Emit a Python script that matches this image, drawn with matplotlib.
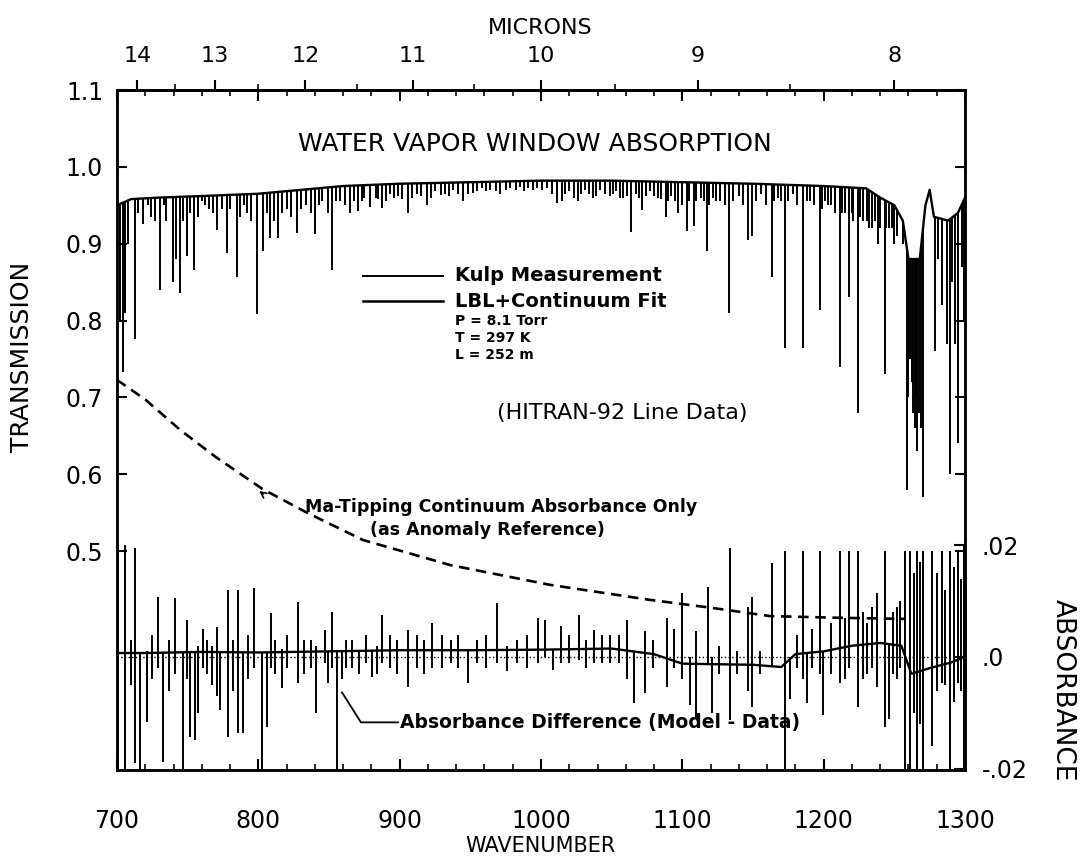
import numpy as np
import matplotlib
matplotlib.use('Agg')
import matplotlib.pyplot as plt

plt.rcParams['font.family'] = ['DejaVu Sans']

# transmission trace: upper envelope (wavenumber, transmission)
base_wn = [700, 710, 730, 760, 800, 830, 860, 900, 950, 1000, 1050, 1100, 1150,
           1200, 1230, 1240, 1250, 1256, 1260, 1268, 1272, 1275, 1278, 1288, 1295, 1300]
base_tr = [0.950, 0.958, 0.960, 0.962, 0.965, 0.970, 0.975, 0.978, 0.980, 0.982, 0.982,
           0.980, 0.978, 0.975, 0.972, 0.960, 0.950, 0.930, 0.880, 0.880, 0.950, 0.970,
           0.935, 0.930, 0.940, 0.960]

# absorption lines: centre and minimum transmission
line_wn = [702, 704.2, 705.7, 708, 712.7, 718.4, 722, 727, 730.4, 735, 739.6, 742, 744.6,
           749.5, 754.5, 760.1, 765, 770.8, 774, 777.8, 784.9, 790, 795, 799.1, 803.3,
           808.3, 813.9, 820, 827.4, 834, 840.1, 845, 849.3, 852.1, 857.8, 864.9, 870.5,
           875, 879, 883, 887.5, 893, 899, 905.9, 912, 919.3, 925, 932, 938, 944.8, 951.9,
           958, 964, 971, 978, 985, 991, 997.2, 1004, 1008, 1011.3, 1014.9, 1020, 1026.2,
           1031, 1036.8, 1042, 1048.8, 1053, 1058, 1063.7, 1067, 1071.5, 1077, 1082.8,
           1088.5, 1092, 1097, 1103.3, 1108.3, 1113, 1117.5, 1121.7, 1127, 1133, 1140,
           1146.5, 1149.3, 1156, 1163.5, 1168, 1172.7, 1178.3, 1185.4, 1190, 1197.4, 1201,
           1205.2, 1211.6, 1215, 1218, 1221, 1224.3, 1228, 1230.7, 1234, 1238.5, 1243.4,
           1246, 1248.4, 1252, 1256.2, 1259, 1260, 1261, 1262.5, 1263, 1264.6, 1265.5, 1266,
           1267.5, 1269, 1270.3, 1278.8, 1281, 1283.7, 1287.3, 1289.4, 1291, 1293, 1295.1,
           1297.9, 1299,
           # weaker lines that make the envelope ragged
           715, 724, 733, 747, 752, 757, 762, 768, 780, 787, 792, 806, 811, 817, 823, 830,
           837, 843, 855, 861, 868, 873, 885, 890, 896, 902, 909, 915, 922, 929, 935, 941,
           948, 955, 961, 968, 975, 982, 988, 994, 1001, 1017, 1023, 1028, 1034, 1039, 1045,
           1051, 1056, 1061, 1069, 1074, 1080, 1085, 1090, 1095, 1100, 1105, 1110, 1115,
           1119, 1124, 1130, 1136, 1143, 1152, 1159, 1165, 1170, 1175, 1181, 1188, 1193,
           1199, 1203, 1208, 1213, 1220, 1226, 1232, 1236, 1240, 1244, 1250]
line_tr = [0.80, 0.733, 0.81, 0.90, 0.776, 0.926, 0.95, 0.93, 0.84, 0.93, 0.85, 0.88, 0.836,
           0.884, 0.866, 0.955, 0.945, 0.918, 0.945, 0.888, 0.856, 0.95, 0.93, 0.808, 0.89,
           0.908, 0.908, 0.945, 0.914, 0.95, 0.912, 0.955, 0.94, 0.866, 0.955, 0.94, 0.943,
           0.96, 0.948, 0.96, 0.946, 0.965, 0.962, 0.94, 0.965, 0.95, 0.968, 0.965, 0.97,
           0.955, 0.966, 0.972, 0.97, 0.964, 0.972, 0.974, 0.972, 0.973, 0.972, 0.965, 0.953,
           0.955, 0.968, 0.955, 0.97, 0.96, 0.97, 0.962, 0.968, 0.96, 0.915, 0.965, 0.944,
           0.968, 0.96, 0.935, 0.962, 0.94, 0.917, 0.923, 0.96, 0.89, 0.96, 0.955, 0.81,
           0.962, 0.905, 0.91, 0.965, 0.856, 0.96, 0.764, 0.965, 0.764, 0.955, 0.814, 0.955,
           0.95, 0.74, 0.94, 0.83, 0.93, 0.68, 0.93, 0.93, 0.92, 0.90, 0.73, 0.92, 0.92, 0.91,
           0.90, 0.58, 0.70, 0.75, 0.72, 0.68, 0.66, 0.70, 0.63, 0.68, 0.66, 0.57, 0.76,
           0.88, 0.82, 0.77, 0.60, 0.85, 0.77, 0.64, 0.87, 0.80,
           0.94, 0.935, 0.95, 0.93, 0.94, 0.935, 0.95, 0.94, 0.945, 0.935, 0.94, 0.94, 0.93,
           0.94, 0.935, 0.945, 0.94, 0.95, 0.955, 0.95, 0.955, 0.955, 0.958, 0.955, 0.96,
           0.958, 0.96, 0.962, 0.96, 0.963, 0.962, 0.965, 0.965, 0.968, 0.968, 0.968, 0.97,
           0.97, 0.968, 0.97, 0.97, 0.965, 0.96, 0.965, 0.965, 0.962, 0.965, 0.965, 0.96,
           0.962, 0.96, 0.962, 0.962, 0.958, 0.955, 0.955, 0.95, 0.955, 0.955, 0.955, 0.95,
           0.955, 0.95, 0.955, 0.95, 0.955, 0.95, 0.955, 0.955, 0.955, 0.95, 0.955, 0.95,
           0.945, 0.95, 0.94, 0.94, 0.94, 0.935, 0.92, 0.93, 0.92, 0.92, 0.90]

# Ma-Tipping continuum absorbance (dashed)
cont_wn = [700, 720, 745, 770, 803, 835, 874, 936, 1006, 1077, 1120, 1162, 1210, 1258]
cont_ab = [0.0495, 0.0460, 0.0405, 0.0357, 0.0300, 0.0257, 0.0209, 0.0164, 0.0129,
           0.0102, 0.0088, 0.0073, 0.0070, 0.0068]

# absorbance difference (model - data): slow level plus spikes
diff_wn = [700, 720, 760, 800, 850, 900, 950, 1000, 1050, 1080, 1100, 1150, 1170, 1180,
           1200, 1220, 1240, 1255, 1262, 1275, 1290, 1300]
diff_ab = [0.0007, 0.0007, 0.0009, 0.0008, 0.0010, 0.0012, 0.0012, 0.0013, 0.0015, 0.0005,
           -0.0012, -0.0014, -0.0018, 0.0005, 0.0010, 0.0020, 0.0025, 0.0020, -0.0030,
           -0.0020, -0.0010, 0.0]
spike_wn = [700.5, 706, 710, 712.7, 716.3, 721.3, 725, 729, 732.6, 737, 741, 747, 749.5, 752,
            755, 757.3, 760.8, 764, 767, 770.8, 773, 778.5, 782, 785.6, 789, 793, 796.8,
            802.5, 806, 808.8, 812, 816.6, 820, 827.9, 832, 837, 841, 847.5, 849.3, 852.1,
            855.6, 859, 862, 866, 871, 876, 880.5, 884, 887.5, 893, 898, 905.9, 912, 917,
            923, 930, 936, 941, 948, 955, 961, 969, 976, 983, 990, 997.9, 1002.8, 1008.5,
            1014, 1020, 1027, 1032, 1037.5, 1043, 1049, 1055, 1060.5, 1066, 1073.5, 1079,
            1089, 1094, 1100, 1105.6, 1110, 1118, 1121, 1126, 1134, 1139, 1146.5, 1149.3,
            1155, 1163.5, 1172.7, 1176, 1181, 1185.4, 1188, 1192, 1197.4, 1199.5, 1205,
            1211.6, 1215, 1218, 1224.3, 1228, 1231, 1234, 1238, 1243.4, 1246, 1249, 1252,
            1254, 1257.6, 1261, 1264, 1266, 1268, 1270.3, 1277, 1280, 1283.7, 1286, 1289.4,
            1292, 1295, 1297, 1299.3]
spike_lo = [-0.02, -0.02, -0.005, -0.019, -0.02, -0.0116, -0.004, -0.002, -0.0188, -0.006,
            -0.003, -0.02, -0.004, -0.0143, -0.0148, -0.01, -0.002, -0.003, -0.005, -0.007,
            -0.0095, -0.0143, -0.006, -0.0136, -0.0136, -0.004, -0.002, -0.02, -0.0125,
            -0.002, -0.003, -0.0055, -0.002, -0.0047, -0.003, -0.002, -0.01, -0.001, -0.0047,
            -0.002, -0.02, -0.004, -0.002, -0.002, -0.003, -0.001, -0.0036, -0.003, -0.001,
            -0.002, -0.003, -0.0054, -0.002, -0.003, -0.002, -0.002, -0.001, -0.002, -0.0047,
            -0.001, -0.002, -0.001, -0.0025, -0.001, -0.002, -0.001, 0.0, -0.0023, -0.001,
            -0.001, -0.0005, -0.002, -0.001, -0.001, -0.001, -0.001, -0.004, -0.0082, -0.0064,
            -0.002, -0.0054, -0.002, -0.004, -0.0086, -0.011, -0.001, -0.01, -0.003, -0.0112,
            -0.003, -0.006, -0.009, -0.003, -0.001, -0.02, -0.0075, -0.002, -0.004, -0.0082,
            -0.002, -0.003, -0.0104, -0.003, -0.0046, -0.004, -0.002, -0.009, -0.004, -0.003,
            -0.002, -0.0054, -0.0125, -0.011, -0.003, -0.004, -0.002, -0.02, -0.02, -0.01,
            -0.02, -0.012, -0.02, -0.016, -0.006, -0.0046, -0.005, -0.02, -0.008, -0.0046,
            -0.006, -0.02]
spike_hi = [0.02, 0.02, 0.003, 0.0195, 0.0, 0.001, 0.004, 0.0107, 0.0, 0.003, 0.0105, 0.0,
            0.0066, 0.0, 0.0, 0.002, 0.005, 0.003, 0.002, 0.0054, 0.0, 0.012, 0.003, 0.012,
            0.0, 0.004, 0.0123, 0.0, 0.0, 0.0079, 0.003, 0.0015, 0.004, 0.0098, 0.003, 0.003,
            0.002, 0.0048, 0.001, 0.008, 0.0, 0.001, 0.003, 0.003, 0.0, 0.004, 0.001, 0.002,
            0.0075, 0.004, 0.003, 0.0048, 0.004, 0.003, 0.006, 0.004, 0.003, 0.004, 0.0,
            0.003, 0.004, 0.0096, 0.002, 0.003, 0.004, 0.007, 0.0066, 0.0, 0.0055, 0.004,
            0.0075, 0.003, 0.0048, 0.004, 0.004, 0.004, 0.0066, 0.0, 0.0046, 0.003, 0.007,
            0.005, 0.0114, 0.0, 0.0046, 0.0125, 0.0, 0.002, 0.0195, 0.001, 0.009, 0.0107,
            0.001, 0.0168, 0.019, 0.0, 0.004, 0.019, 0.0, 0.005, 0.019, 0.0, 0.006, 0.019,
            0.007, 0.019, 0.019, 0.008, 0.006, 0.009, 0.0114, 0.019, 0.0, 0.008, 0.009, 0.01,
            0.019, 0.019, 0.015, 0.019, 0.017, 0.019, 0.019, 0.015, 0.019, 0.012, 0.019,
            0.016, 0.019, 0.014, 0.02]

wn_major = [700, 800, 900, 1000, 1100, 1200, 1300]
tr_ticks = [0.5, 0.6, 0.7, 0.8, 0.9, 1.0, 1.1]
ab_ticks = [-0.02, 0.0, 0.02]
ab_labels = ['-.02', '.0', '.02']
micron_major = [14, 13, 12, 11, 10, 9, 8]
micron_minor = [13.5, 12.5, 11.5, 10.5, 9.5, 8.5]


def wn2um(x):
    x = np.asarray(x, dtype=float)
    with np.errstate(divide='ignore'):
        return 1e4 / x


fig = plt.figure(figsize=(10.82, 8.61), dpi=100)
ax = fig.add_axes([117 / 1082, 1 - 770 / 861, 848 / 1082, 680 / 861])
ax2 = ax.twinx()

# transmission spectrum
ax.plot(base_wn, base_tr, color='k', lw=1.7)
top = np.interp(line_wn, base_wn, base_tr)
ax.vlines(line_wn, np.minimum(line_tr, top), top, color='k', lw=1.4)

# difference trace, zero reference and continuum
ax2.axhline(0.0, color='k', lw=1.0, ls=':')
ax2.plot(diff_wn, diff_ab, color='k', lw=1.7)
lvl = np.interp(spike_wn, diff_wn, diff_ab)
ax2.vlines(spike_wn, np.minimum(spike_lo, lvl), np.maximum(spike_hi, lvl), color='k', lw=1.4)
ax2.plot(cont_wn, cont_ab, color='k', lw=1.9, ls=(0, (4, 2.5)))

ax.set_xlim(700, 1300)
ax.set_ylim(0.215, 1.1)
ax2.set_ylim(-0.0202, 0.1013)

ax.set_xticks(wn_major)
ax.set_xticks(np.arange(700, 1301, 20), minor=True)
ax.set_yticks(tr_ticks)
ax.set_yticklabels(['%.1f' % t for t in tr_ticks])
ax.tick_params(axis='x', which='major', direction='in', top=True, length=8, width=1.5,
               labelsize=17, pad=28)
ax.tick_params(axis='x', which='minor', direction='in', top=True, length=4, width=1.2)
ax.tick_params(axis='y', direction='in', right=True, length=7, width=1.5,
               labelsize=17, pad=10)
ax2.set_yticks(ab_ticks)
ax2.set_yticklabels(ab_labels)
ax2.tick_params(axis='y', direction='in', length=8, width=1.5, labelsize=17, pad=12)

secax = ax.secondary_xaxis('top', functions=(wn2um, wn2um))
secax.set_xticks(micron_major)
secax.set_xticklabels([str(m) for m in micron_major])
secax.set_xticks(micron_minor, minor=True)
secax.tick_params(axis='x', which='major', direction='out', length=7, width=1.5,
                  labelsize=16, pad=10)
secax.tick_params(axis='x', which='minor', direction='out', length=4, width=1.2)

for a in (ax, ax2, secax):
    for s in a.spines.values():
        s.set_linewidth(1.8)

# annotations
ax.text(995.8, 1.030, 'WATER VAPOR WINDOW ABSORPTION', ha='center', va='center', fontsize=18)
ax.plot([874, 931], [0.858, 0.858], color='k', lw=1.4)
ax.plot([874, 931], [0.825, 0.825], color='k', lw=1.8)
ax.text(939, 0.858, 'Kulp Measurement', ha='left', va='center', fontsize=14, fontweight='bold')
ax.text(939, 0.825, 'LBL+Continuum Fit', ha='left', va='center', fontsize=14, fontweight='bold')
ax.text(939, 0.799, 'P = 8.1 Torr', ha='left', va='center', fontsize=10, fontweight='bold')
ax.text(939, 0.777, 'T = 297 K', ha='left', va='center', fontsize=10, fontweight='bold')
ax.text(939, 0.755, 'L = 252 m', ha='left', va='center', fontsize=10, fontweight='bold')
ax.text(969, 0.679, '(HITRAN-92 Line Data)', ha='left', va='center', fontsize=16)
ax.text(833, 0.557, 'Ma-Tipping Continuum Absorbance Only', ha='left', va='center',
        fontsize=12.5, fontweight='bold')
ax.text(879, 0.528, '(as Anomaly Reference)', ha='left', va='center', fontsize=12.5,
        fontweight='bold')
ax.annotate('', xy=(799, 0.580), xytext=(805, 0.572),
            arrowprops=dict(arrowstyle='->', color='k', lw=1.2))
ax.plot([859.2, 872.6, 898.8], [0.316, 0.277, 0.277], color='k', lw=1.3)
ax.text(900.5, 0.277, 'Absorbance Difference (Model - Data)', ha='left', va='center',
        fontsize=13.5, fontweight='bold')

fig.text(540 / 1082, 1 - 28 / 861, 'MICRONS', ha='center', va='center', fontsize=16)
fig.text(540 / 1082, 1 - 846 / 861, 'WAVENUMBER', ha='center', va='center', fontsize=15)
fig.text(22 / 1082, 1 - 357 / 861, 'TRANSMISSION', ha='center', va='center',
         rotation=90, fontsize=18)
fig.text(1063 / 1082, 1 - 690 / 861, 'ABSORBANCE', ha='center', va='center',
         rotation=-90, fontsize=19)

fig.savefig('out.png', dpi=100)
